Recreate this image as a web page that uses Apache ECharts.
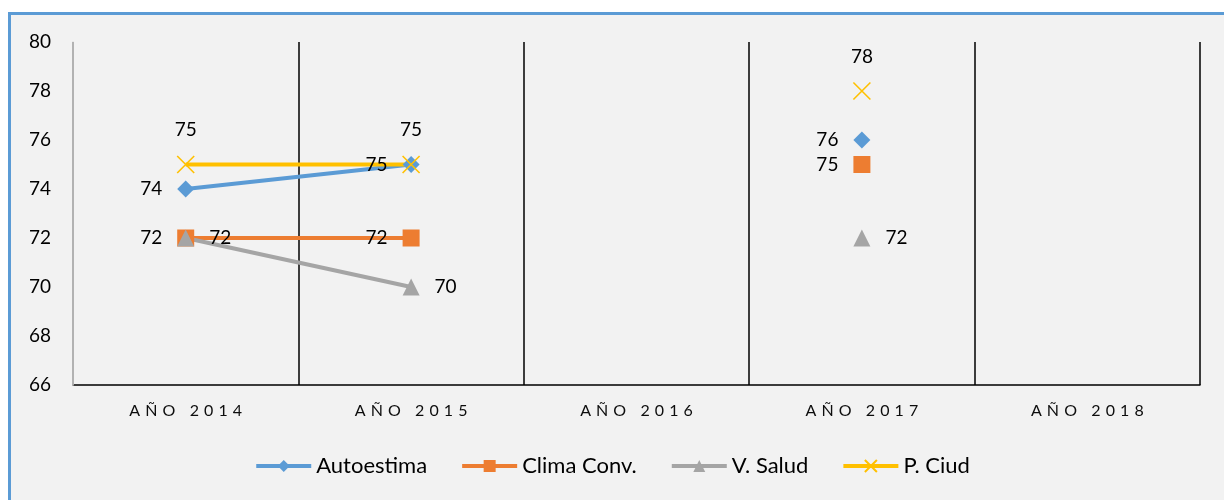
<!DOCTYPE html>
<html>
<head>
<meta charset="utf-8">
<script src="https://cdn.jsdelivr.net/npm/echarts@6/dist/echarts.min.js"></script>
<style>
  body { margin: 0; background: #ffffff; }
  #frame { position: absolute; left: 8px; top: 12px; width: 1300px; height: 600px; border: 3px solid #5b9bd5; background: #f2f2f2; }
  #chart { position: absolute; left: 0; top: 0; width: 1224px; height: 500px; }
</style>
</head>
<body>
<div id="frame"></div>
<div id="chart"></div>
<script>
var years = ['AÑO 2014', 'AÑO 2015', 'AÑO 2016', 'AÑO 2017', 'AÑO 2018'];
var autoestima = [74, 75, null, 76, null];
var climaConv = [72, 72, null, 75, null];
var vSalud = [72, 70, null, 72, null];
var pCiud = [75, 75, null, 78, null];

var font = 'Lato';

function serie(name, data, color, symbol, labelPos) {
  return {
    name: name,
    type: 'line',
    data: data,
    connectNulls: false,
    symbol: symbol,
    symbolSize: 17,
    lineStyle: {color: color, width: 4},
    itemStyle: {color: color, borderColor: color, borderWidth: 0},
    label: {
      show: true,
      position: labelPos,
      distance: 15,
      color: '#000',
      fontFamily: font,
      fontSize: 19
    },
    emphasis: {disabled: true}
  };
}

var xSeries = serie('P. Ciud', pCiud, '#ffc000', 'path://M0,0L10,10M10,0L0,10', 'top');
xSeries.itemStyle = {color: 'none', borderColor: '#ffc000', borderWidth: 1.6};
xSeries.label.distance = 14;

var option = {
  animation: false,
  textStyle: {fontFamily: font},
  grid: {left: 73, right: 24, top: 42, bottom: 115},
  legend: {
    top: 450,
    left: 'center',
    itemWidth: 55,
    itemHeight: 15,
    itemGap: 33,
    lineStyle: {width: 4},
    textStyle: {fontFamily: font, fontSize: 22, color: '#000'},
    data: ['Autoestima', 'Clima Conv.', 'V. Salud', 'P. Ciud']
  },
  xAxis: {
    type: 'category',
    data: years,
    z: 1,
    axisLine: {lineStyle: {color: '#000', width: 1.5}},
    axisTick: {show: false},
    splitLine: {show: true, lineStyle: {color: '#000', width: 1.5}},
    axisLabel: {
      margin: 18,
      color: '#0d0d0d',
      fontFamily: font,
      fontSize: 16,
      formatter: function (v) { return v.split('').join(' \u200a'); }
    }
  },
  yAxis: {
    type: 'value',
    min: 66,
    max: 80,
    interval: 2,
    z: 3,
    axisLine: {show: true, lineStyle: {color: '#d9d9d9', width: 1.5}},
    axisTick: {show: false},
    splitLine: {show: false},
    axisLabel: {margin: 22, color: '#000', fontFamily: font, fontSize: 19}
  },
  series: [
    serie('Autoestima', autoestima, '#5b9bd5', 'diamond', 'left'),
    serie('Clima Conv.', climaConv, '#ed7d31', 'rect', 'left'),
    serie('V. Salud', vSalud, '#a5a5a5', 'triangle', 'right'),
    xSeries
  ]
};

var chart = echarts.init(document.getElementById('chart'));
chart.setOption(option);
</script>
</body>
</html>
